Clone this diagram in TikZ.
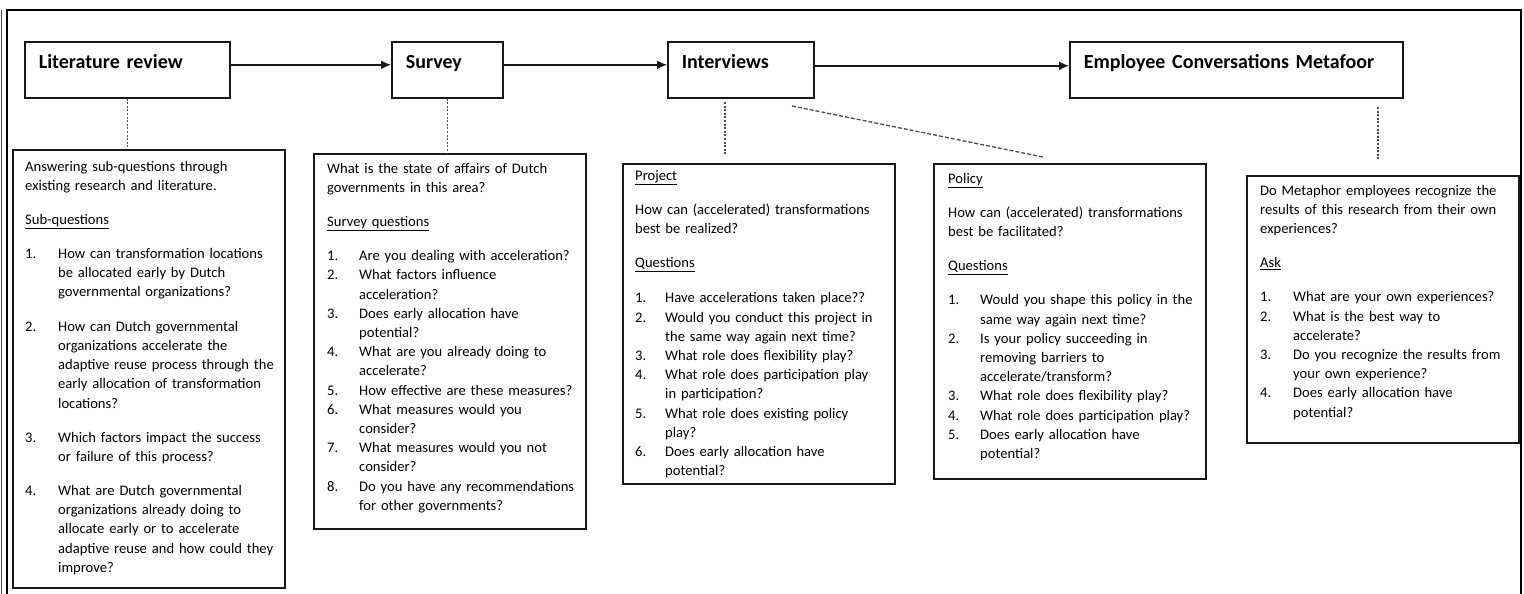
\documentclass[tikz,border=0pt]{standalone}
\usepackage{fontspec}
\setmainfont{Carlito}
\usetikzlibrary{arrows.meta}

% hanging layout of the numbered questions
\newlength\qind
\newcommand\qn[2]{\makebox[\qind][l]{#1}#2}
\newcommand\qc[1]{\hspace*{\qind}#1}

\begin{document}
\begin{tikzpicture}[x=1pt,y=-1pt,
  hdr/.style={draw=black!90, line width=1.6pt, anchor=north west,
    inner xsep=14pt, inner ysep=0pt, text height=27pt, text depth=29pt,
    align=left, text=black, font=\fontsize{20}{24}\selectfont\bfseries},
  panel/.style={draw=black!90, line width=1.6pt, anchor=north west,
    minimum width=272pt, inner sep=0pt},
  body/.style={anchor=base west, inner sep=0pt, text width=300pt,
    align=left, text=black, font=\fontsize{14.6}{19.2}\selectfont},
  flow/.style={draw=black!90, line width=1.5pt, -{Latex[length=10pt,width=9pt]}},
  dotline/.style={draw=black!70, line width=1.4pt, dash pattern=on 2pt off 1.6pt},
  dashline/.style={draw=black!70, line width=1.3pt, dash pattern=on 4pt off 2pt}]

\useasboundingbox (0,0) rectangle (1524,594);

% outer frame, open at the bottom
\draw[line width=2pt, black] (7,594) -- (7,10) -- (1521,10) -- (1521,594);
\draw[line width=0.8pt, black!70] (1.5,10) -- (1.5,594);

% research phases
\node[hdr, text width=177pt] (lit) at (24,41) {Literature review};
\node[hdr, text width=83pt]  (sur) at (391,41) {Survey};
\node[hdr, text width=118pt] (int) at (667,41) {Interviews};
\node[hdr, text width=305pt] (emp) at (1069,41) {Employee Conversations Metafoor};

\draw[flow] ([yshift=5pt]lit.east) -- ([yshift=5pt]sur.west);
\draw[flow] ([yshift=5pt]sur.east) -- ([yshift=5pt]int.west);
\draw[flow] ([yshift=4pt]int.east) -- ([yshift=4pt]emp.west);

% detail panels
\node[panel, minimum height=438pt] (litd) at (12,149) {};
\node[panel, minimum height=375pt] (surd) at (313,153) {};
\node[panel, minimum height=320pt] (prjd) at (622,163) {};
\node[panel, minimum height=315pt] (pold) at (933,163) {};
\node[panel, minimum height=267pt] (empd) at (1246,175) {};

% links from phases to panels
\coordinate (i1) at (725,102);
\coordinate (i2) at (725,155);
\coordinate (d1) at (792,106);
\coordinate (d2) at (1043,157);
\coordinate (e1) at (1378,107);
\coordinate (e2) at (1378,160);
\draw[dotline] (lit.south) -- (lit.south |- litd.north);
\draw[dotline] (sur.south) -- (sur.south |- surd.north);
\draw[dotline] (i1) -- (i2);
\draw[dashline] (d1) -- (d2);
\draw[dotline] (e1) -- (e2);

% panel texts
\node[body] (litt) at (25,171) {\setlength\qind{33pt}%
Answering sub-questions through\\
existing research and literature.\\[15pt]
\underline{Sub-questions}\\[15pt]
\qn{1.}{How can transformation locations}\\
\qc{be allocated early by Dutch}\\
\qc{governmental organizations?}\\[15pt]
\qn{2.}{How can Dutch governmental}\\
\qc{organizations accelerate the}\\
\qc{adaptive reuse process through the}\\
\qc{early allocation of transformation}\\
\qc{locations?}\\[15pt]
\qn{3.}{Which factors impact the success}\\
\qc{or failure of this process?}\\[15pt]
\qn{4.}{What are Dutch governmental}\\
\qc{organizations already doing to}\\
\qc{allocate early or to accelerate}\\
\qc{adaptive reuse and how could they}\\
\qc{improve?}};

\node[body] (surt) at (327,173) {\setlength\qind{32pt}%
What is the state of affairs of Dutch\\
governments in this area?\\[15pt]
\underline{Survey questions}\\[15pt]
\qn{1.}{Are you dealing with acceleration?}\\
\qn{2.}{What factors influence}\\
\qc{acceleration?}\\
\qn{3.}{Does early allocation have}\\
\qc{potential?}\\
\qn{4.}{What are you already doing to}\\
\qc{accelerate?}\\
\qn{5.}{How effective are these measures?}\\
\qn{6.}{What measures would you}\\
\qc{consider?}\\
\qn{7.}{What measures would you not}\\
\qc{consider?}\\
\qn{8.}{Do you have any recommendations}\\
\qc{for other governments?}};

\node[body] (prjt) at (635,180) {\setlength\qind{30pt}%
\underline{Project}\\[15pt]
How can (accelerated) transformations\\
best be realized?\\[15pt]
\underline{Questions}\\[16pt]
\qn{1.}{Have accelerations taken place??}\\
\qn{2.}{Would you conduct this project in}\\
\qc{the same way again next time?}\\
\qn{3.}{What role does flexibility play?}\\
\qn{4.}{What role does participation play}\\
\qc{in participation?}\\
\qn{5.}{What role does existing policy}\\
\qc{play?}\\
\qn{6.}{Does early allocation have}\\
\qc{potential?}};

\node[body] (polt) at (948,183) {\setlength\qind{32pt}%
\underline{Policy}\\[15pt]
How can (accelerated) transformations\\
best be facilitated?\\[15pt]
\underline{Questions}\\[15pt]
\qn{1.}{Would you shape this policy in the}\\
\qc{same way again next time?}\\
\qn{2.}{Is your policy succeeding in}\\
\qc{removing barriers to}\\
\qc{accelerate/transform?}\\
\qn{3.}{What role does flexibility play?}\\
\qn{4.}{What role does participation play?}\\
\qn{5.}{Does early allocation have}\\
\qc{potential?}};

\node[body] (empt) at (1260,195) {\setlength\qind{33pt}%
Do Metaphor employees recognize the\\
results of this research from their own\\
experiences?\\[15pt]
\underline{Ask}\\[15pt]
\qn{1.}{What are your own experiences?}\\
\qn{2.}{What is the best way to}\\
\qc{accelerate?}\\
\qn{3.}{Do you recognize the results from}\\
\qc{your own experience?}\\
\qn{4.}{Does early allocation have}\\
\qc{potential?}};

\end{tikzpicture}
\end{document}
